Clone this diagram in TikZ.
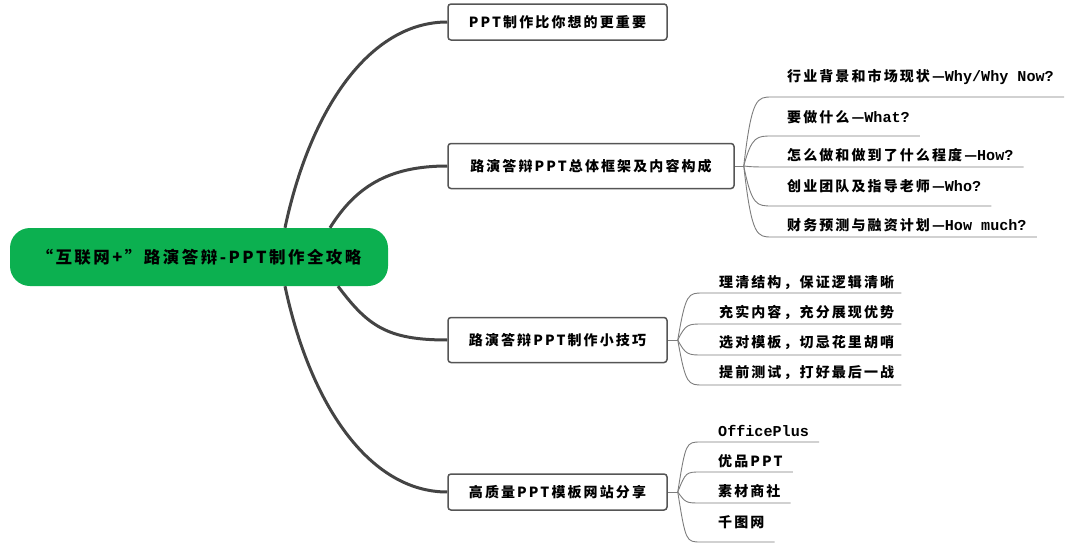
\documentclass[tikz,border=0pt]{standalone}
\usepackage{fontspec}
\setmainfont{Noto Sans CJK SC}[LetterSpace=15]
\newfontfamily\monofont{Liberation Mono}[Scale=1.08]
\usetikzlibrary{calc}
\definecolor{rootgreen}{RGB}{12,176,80}
\definecolor{boxline}{RGB}{85,85,85}
\definecolor{stemline}{RGB}{68,68,68}
\definecolor{twigline}{RGB}{125,125,125}
\begin{document}
\begin{tikzpicture}
  [x=1pt,y=-1pt,
   rootnode/.style={fill=rootgreen,rounded corners=20pt,minimum width=378pt,minimum height=58pt,font=\bfseries\fontsize{16.5}{18}\selectfont},
   topic/.style={draw=boxline,line width=1.5pt,rounded corners=3pt,fill=white,minimum height=36pt,font=\bfseries\fontsize{14}{16}\selectfont},
   leaf/.style={anchor=west,inner sep=0pt,font=\bfseries\fontsize{14}{16}\selectfont},
   stem/.style={draw=stemline,line width=3pt},
   twig/.style={draw=twigline,line width=0.9pt}]
  \useasboundingbox (0,0) rectangle (1080,546);
  % root and main topics
  \node[rootnode] (root) at (199,257) {“互联网+”路演答辩-PPT制作全攻略};
  \node[topic,minimum width=219pt] (b1) at (557.5,22) {PPT制作比你想的更重要};
  \node[topic,minimum width=286pt,minimum height=45pt] (b2) at (591,166) {路演答辩PPT总体框架及内容构成};
  \node[topic,minimum width=219pt,minimum height=45pt] (b3) at (557.5,340) {路演答辩PPT制作小技巧};
  \node[topic,minimum width=219pt] (b4) at (557.5,492) {高质量PPT模板网站分享};
  \draw[stem] ([xshift=86pt]root.north) .. controls +(25,-118) and +(-78,0) .. (b1.west);
  \draw[stem] ([xshift=131pt]root.north) .. controls +(25,-40) and +(-60,0) .. (b2.west);
  \draw[stem] ([xshift=139pt]root.south) .. controls +(30,40) and +(-60,0) .. (b3.west);
  \draw[stem] ([xshift=86pt]root.south) .. controls +(25,118) and +(-78,0) .. (b4.west);
  % forks
  \coordinate (f2) at ([xshift=9pt]b2.east);
  \coordinate (f3) at ([xshift=10pt]b3.east);
  \coordinate (f4) at ([xshift=10pt]b4.east);
  \draw[twig] (b2.east) -- (f2);
  \draw[twig] (b3.east) -- (f3);
  \draw[twig] (b4.east) -- (f4);
  % leaves
  \foreach \i/\ty/\uy/\txt in {1/77/97/{行业背景和市场现状—\monofont Why/Why Now?},
      2/117/136/{要做什么—\monofont What?},
      3/155/167/{怎么做和做到了什么程度—\monofont How?},
      4/186/206/{创业团队及指导老师—\monofont Who?},
      5/225/237/{财务预测与融资计划—\monofont How much?}}{
    \node[leaf] (s2\i) at (787,\ty) {\txt};
    \coordinate (u2\i) at (772,\uy);
    \draw[twig] (f2) .. controls ($(f2 |- u2\i)+(8,0)$) and ($(u2\i)+(-15,0)$) .. (u2\i) -- ($(s2\i.east |- u2\i)+(10,0)$);
  }
  \foreach \i/\ty/\uy/\txt in {1/283/293/{理清结构，保证逻辑清晰},
      2/312/324/{充实内容，充分展现优势},
      3/343/355/{选对模板，切忌花里胡哨},
      4/373/385/{提前测试，打好最后一战}}{
    \node[leaf] (s3\i) at (719,\ty) {\txt};
    \coordinate (u3\i) at (703,\uy);
    \draw[twig] (f3) .. controls ($(f3 |- u3\i)+(8,0)$) and ($(u3\i)+(-15,0)$) .. (u3\i) -- ($(s3\i.east |- u3\i)+(7,0)$);
  }
  \foreach \i/\ty/\uy/\txt in {1/431/442/{\monofont OfficePlus},
      2/461/472/{优品PPT},
      3/491/503/{素材商社},
      4/522/542/{千图网}}{
    \node[leaf] (s4\i) at (718,\ty) {\txt};
    \coordinate (u4\i) at (701,\uy);
    \draw[twig] (f4) .. controls ($(f4 |- u4\i)+(8,0)$) and ($(u4\i)+(-15,0)$) .. (u4\i) -- ($(s4\i.east |- u4\i)+(10,0)$);
  }
\end{tikzpicture}
\end{document}
